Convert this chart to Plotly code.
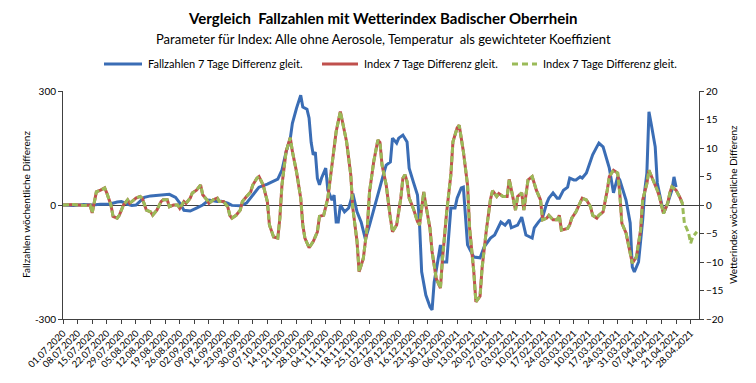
import pandas as pd
import plotly.graph_objects as go

START = pd.Timestamp("2020-07-01")

# Fallzahlen 7 Tage Differenz gleit. (day offset from 01.07.2020, value, left axis)
blue_days = [0,5,10,14,18,22,26,28,31,33,35,37,39,42,47,51,54,56,58,61,64,67,70,74,76,79,81,85,88,91,94,98,101,103,105,107,109,110,112,114,115,117,118,119,120,121,122,123,124,126,127,129,130,131,132,133,135,137,139,141,143,145,147,150,151,152,154,155,157,158,160,161,163,165,166,168,170,171,172,174,176,177,178,180,181,182,184,186,188,189,191,192,193,194,197,200,202,205,207,208,210,212,214,215,218,220,222,225,226,228,230,232,233,235,237,238,240,242,243,245,246,248,249,251,253,254,256,257,259,261,262,264,266,267,270,272,273,274,276,278,279,280,281,282,284,285,288,290,292,293,294]
blue_vals = [0,-1,1,0,2,2,8,9,2,-1,0,9,20,24,26,28,20,5,-14,-16,-8,0,13,9,10,5,-1,-2,5,26,47,55,62,68,92,140,175,215,255,289,258,252,229,165,132,139,70,53,71,97,39,13,26,-45,-45,0,-18,-8,30,-18,-45,-90,-53,8,26,53,87,105,113,176,163,176,184,166,97,61,26,-53,-176,-237,-268,-276,-203,-139,-105,-150,-150,-8,-8,18,45,47,-18,-105,-137,-139,-110,-87,-79,-66,-45,-53,-39,-60,-53,-32,-79,-87,-60,-45,-32,5,18,32,18,18,39,47,71,66,66,74,71,84,118,132,153,163,153,118,97,32,74,66,13,-47,-163,-176,-150,-39,39,84,245,216,153,58,-21,5,39,74,47]

# Index 7 Tage Differenz gleit. (right axis)
idx_days = [0,5,10,13,14,16,18,20,21,23,24,26,27,29,31,32,34,35,37,38,40,42,43,45,47,48,50,51,53,55,56,58,59,61,62,64,66,67,69,70,72,74,75,77,79,80,81,83,85,86,88,90,91,93,94,96,98,99,101,103,104,105,107,109,110,112,114,115,116,118,120,122,123,125,127,128,129,131,133,134,136,138,139,141,142,144,146,147,149,151,152,153,155,157,158,160,162,163,164,165,166,168,170,171,173,174,176,177,179,181,182,184,186,187,189,190,192,194,195,197,198,200,201,203,205,206,208,209,211,213,214,217,218,220,221,223,225,227,229,230,232,233,235,237,238,239,242,243,244,246,248,249,251,253,254,256,257,259,261,262,264,266,267,268,270,272,273,275,277,278,280,281,283,285,286,288,290,291,292,294,296,297]
idx_vals = [0,0.1,-0.1,0,-1.4,2.3,2.6,3.0,2.1,0,-2,-2.3,-1.8,0,0.9,0.3,0.9,1.2,1.5,1.2,-0.9,-1.2,-1.8,-0.9,0.6,0.9,0.9,-0.3,0,0,-0.6,0.6,0.3,1.2,2.1,2.6,3.5,1.8,0.9,0.3,0.9,1.2,0.6,0.6,-0.3,-1.8,-2.3,-1.8,-0.9,0.6,1.5,2.3,3.5,4.7,5.0,3.5,0.6,-3.5,-5.6,-5.8,-2.3,3.5,9.4,11.8,9.4,5.8,1.2,-3.5,-5.8,-7.5,-6.4,-4.7,-2,-1.8,1.2,4.1,7,12.9,16.4,14.6,11.1,5.3,-0.6,-6.4,-11.7,-9.4,-3.5,2.3,7.6,11.4,11,7,3.5,-2.3,-4.7,-3.5,1.2,4.7,5.3,4.1,1.2,-0.6,-2.9,-3.5,2.3,0,-4.1,-8.2,-12.9,-14.6,-9.4,-1.2,5.3,11.1,13.5,14.0,9.4,3.5,-4.1,-11.7,-17,-16,-11,-4.5,1,2.5,1.5,2,1.5,1.5,4.5,-0.9,1.5,2.1,-0.9,4.4,5,2.6,0.9,-2.6,-2.3,-1.8,-2.6,-2.6,-1.8,-4.4,-4.1,-3.5,-2.3,-1.2,0.3,1.2,0.9,-0.3,-1.8,-2.3,-1.8,-1.2,2.6,5,6.1,5.6,2.1,-3.2,-4.9,-8.5,-10.2,-9.1,-4.4,0.9,3.8,6.1,4.4,2.6,1.5,-1.5,0.3,2.1,3.2,2.6,1.2,0.3]
# continuation shown only by the dashed green series
ext_days = [298,300,301,302,304]
ext_vals = [-3.2,-4.9,-6.7,-5.6,-4.7]

tick_dates = pd.date_range("2020-07-01", "2021-04-28", freq="7D")
tick_labels = [d.strftime("%d.%m.%Y") for d in tick_dates]

series_names = ["Fallzahlen 7 Tage Differenz gleit.", "Index 7 Tage Differenz gleit.", "Index 7 Tage Differenz gleit."]

def to_dates(days):
    return [START + pd.Timedelta(days=int(d)) for d in days]

BLUE = "#3A6DB5"
RED = "#C0504D"
GREEN = "#9BBB59"
FONT = "Liberation Sans Narrow, Lato, sans-serif"

fig = go.Figure()
fig.add_trace(go.Scatter(x=to_dates(blue_days), y=blue_vals, mode="lines",
                         line=dict(color=BLUE, width=3), name=series_names[0],
                         showlegend=False))
fig.add_trace(go.Scatter(x=to_dates(idx_days), y=idx_vals, mode="lines", yaxis="y2",
                         line=dict(color=RED, width=3), name=series_names[1],
                         showlegend=False))
fig.add_trace(go.Scatter(x=to_dates(idx_days + ext_days), y=idx_vals + ext_vals, mode="lines",
                         yaxis="y2", line=dict(color=GREEN, width=3, dash="6px,3px"),
                         name=series_names[2], showlegend=False))

# page body has an 8px margin: work in reference pixel coordinates, shifted by O
O = 8
L, R, T, B = 63 - O, 699 - O, 91 - O, 319 - O
W, H = 756 - 2 * O, 383 - 2 * O
def px(xp):
    return (xp - O - L) / (R - L)
def py(yp):
    return (B - (yp - O)) / (B - T)

shapes = []
annotations = []
# manual legend
legend_items = [(104, 142, BLUE, "solid", series_names[0]),
                (322, 358, RED, "solid", series_names[1]),
                (512, 537, GREEN, "6px,4px", series_names[2])]
for x0, x1, col, dash, name in legend_items:
    shapes.append(dict(type="line", xref="paper", yref="paper", x0=px(x0), x1=px(x1),
                       y0=py(64), y1=py(64), line=dict(color=col, width=3, dash=dash)))
    annotations.append(dict(text=name, xref="paper", yref="paper", x=px(x1 + 4), y=py(64),
                            xanchor="left", yanchor="middle", showarrow=False,
                            font=dict(size=11, color="#000", family=FONT)))

annotations.append(dict(text="<b>Vergleich\u00a0 Fallzahlen mit Wetterindex Badischer Oberrhein</b>",
                        xref="paper", yref="paper", x=px(382), y=py(18), xanchor="center",
                        yanchor="middle", showarrow=False,
                        font=dict(size=15, color="#000", family=FONT)))
annotations.append(dict(text="Parameter für Index: Alle ohne Aerosole, Temperatur\u00a0 als gewichteter Koeffizient",
                        xref="paper", yref="paper", x=px(383), y=py(39), xanchor="center",
                        yanchor="middle", showarrow=False,
                        font=dict(size=13, color="#000", family=FONT)))
annotations.append(dict(text="Fallzahlen wöchentliche Differenz", xref="paper", yref="paper",
                        x=px(26), y=py(205), xanchor="center", yanchor="middle", textangle=-90,
                        showarrow=False, font=dict(size=10, color="#000", family=FONT)))
annotations.append(dict(text="Wetterindex wöchentliche Differenz", xref="paper", yref="paper",
                        x=px(733), y=py(205), xanchor="center", yanchor="middle", textangle=-90,
                        showarrow=False, font=dict(size=10, color="#000", family=FONT)))

fig.update_layout(
    width=W, height=H,
    margin=dict(l=L, r=W - R, t=T, b=H - B, pad=0),
    paper_bgcolor="white", plot_bgcolor="white",
    showlegend=False,
    shapes=shapes, annotations=annotations,
    font=dict(family=FONT, size=10, color="#000"),
    xaxis=dict(type="date", range=[START, START + pd.Timedelta(days=305)],
               tickvals=list(tick_dates), ticktext=tick_labels, tickangle=-45,
               ticks="outside", ticklen=4, tickcolor="#404040",
               showline=True, linecolor="#404040", linewidth=1, showgrid=False,
               zeroline=False, tickfont=dict(size=9.5, family=FONT, color="#000"),
               automargin=False),
    yaxis=dict(range=[-300, 300], tickvals=[-300, 0, 300], ticktext=["-300", "0", "300"],
               ticks="outside", ticklen=4, tickcolor="#404040",
               showline=True, linecolor="#404040", linewidth=1,
               showgrid=True, gridcolor="#404040", gridwidth=1, zeroline=False,
               tickfont=dict(size=10, family=FONT, color="#000"), automargin=False),
    yaxis2=dict(range=[-20, 20], dtick=5, overlaying="y", side="right",
                ticks="outside", ticklen=4, tickcolor="#404040",
                showline=True, linecolor="#404040", linewidth=1, showgrid=False,
                zeroline=False, tickfont=dict(size=10, family=FONT, color="#000"),
                automargin=False),
)

fig.write_html("out.html")
